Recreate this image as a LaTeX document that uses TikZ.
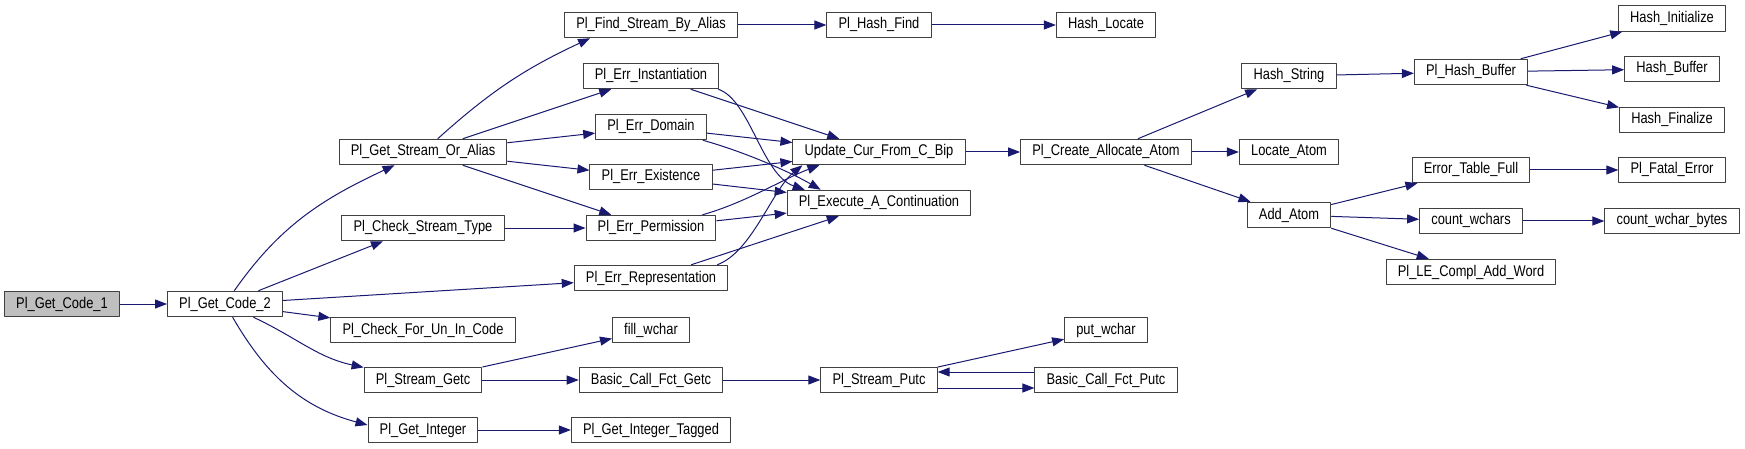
\documentclass[tikz,border=0pt]{standalone}
\usepackage{fontspec}
\setmainfont{Liberation Sans}[FakeStretch=0.83]
\usetikzlibrary{calc}
\usetikzlibrary{arrows.meta}

\definecolor{edgeblue}{HTML}{191970}
\definecolor{boxgray}{HTML}{BFBFBF}

\begin{document}
\begin{tikzpicture}[x=1pt, y=-1pt, line join=round,
    fn/.style={draw=black!75, line width=1pt, fill=white, inner xsep=11.7pt,
      inner ysep=0pt, minimum height=25.5pt, text height=11.5pt, text depth=3.5pt,
      font=\fontsize{15.5}{17}\selectfont},
    call/.style={draw=edgeblue, line width=1pt,
      -{Triangle[length=12pt,width=9pt]}}]
  \useasboundingbox (0,0) rectangle (1745,449);

  % callers on the left
  \node[fn, fill=boxgray] (gc1) at (62,304) {Pl\_Get\_Code\_1};
  \node[fn] (gc2) at (225,304) {Pl\_Get\_Code\_2};
  \node[fn] (gsoa) at (423,152) {Pl\_Get\_Stream\_Or\_Alias};
  \node[fn] (cst) at (423,228) {Pl\_Check\_Stream\_Type};
  \node[fn] (cfu) at (423,330) {Pl\_Check\_For\_Un\_In\_Code};
  \node[fn] (sgetc) at (423,380) {Pl\_Stream\_Getc};
  \node[fn] (gint) at (423,430) {Pl\_Get\_Integer};
  % error column
  \node[fn] (fsba) at (651,25) {Pl\_Find\_Stream\_By\_Alias};
  \node[fn] (einst) at (651,76) {Pl\_Err\_Instantiation};
  \node[fn] (edom) at (651,127) {Pl\_Err\_Domain};
  \node[fn] (eexi) at (651,177) {Pl\_Err\_Existence};
  \node[fn] (eperm) at (651,228) {Pl\_Err\_Permission};
  \node[fn] (erep) at (651,278) {Pl\_Err\_Representation};
  \node[fn] (fillw) at (651,330) {fill\_wchar};
  \node[fn] (bgetc) at (651,380) {Basic\_Call\_Fct\_Getc};
  \node[fn] (gintt) at (651,430) {Pl\_Get\_Integer\_Tagged};
  % middle
  \node[fn] (hfind) at (879,25) {Pl\_Hash\_Find};
  \node[fn] (upd) at (879,152) {Update\_Cur\_From\_C\_Bip};
  \node[fn] (exec) at (879,203) {Pl\_Execute\_A\_Continuation};
  \node[fn] (sputc) at (879,380) {Pl\_Stream\_Putc};
  \node[fn] (hloc) at (1106,25) {Hash\_Locate};
  \node[fn] (caa) at (1106,152) {Pl\_Create\_Allocate\_Atom};
  \node[fn] (putw) at (1106,330) {put\_wchar};
  \node[fn] (bputc) at (1106,380) {Basic\_Call\_Fct\_Putc};
  % atom table side
  \node[fn] (hstr) at (1289,76) {Hash\_String};
  \node[fn] (locatom) at (1289,152) {Locate\_Atom};
  \node[fn] (addatom) at (1289,215) {Add\_Atom};
  \node[fn] (hbuf) at (1471,72) {Pl\_Hash\_Buffer};
  \node[fn] (etf) at (1471,170) {Error\_Table\_Full};
  \node[fn] (cwc) at (1471,221) {count\_wchars};
  \node[fn] (lecaw) at (1471,272) {Pl\_LE\_Compl\_Add\_Word};
  \node[fn] (hinit) at (1672,18.5) {Hash\_Initialize};
  \node[fn] (hbuffer) at (1672,69) {Hash\_Buffer};
  \node[fn] (hfin) at (1672,120) {Hash\_Finalize};
  \node[fn] (fatal) at (1672,170) {Pl\_Fatal\_Error};
  \node[fn] (cwb) at (1672,221) {count\_wchar\_bytes};

  % straight calls
  \foreach \a/\b in {gc1/gc2, gc2/erep, gc2/cfu, gsoa/einst, gsoa/edom,
      gsoa/eexi, gsoa/eperm, cst/eperm, fsba/hfind, hfind/hloc, einst/upd,
      edom/upd, eexi/upd, eexi/exec, eperm/exec, erep/exec, upd/caa,
      caa/hstr, caa/locatom, caa/addatom, hstr/hbuf, hbuf/hinit,
      hbuf/hbuffer, hbuf/hfin, addatom/etf, addatom/cwc, addatom/lecaw,
      etf/fatal, cwc/cwb, sgetc/fillw, sgetc/bgetc, bgetc/sputc,
      sputc/putw, gint/gintt}
    \draw[call] (\a) -- (\b);

  % bent calls
  \draw[call] (gc2) to[out=55,in=205] (gsoa);
  \draw[call] (gc2) -- ($(cst.south)+(-40,0)$);
  \draw[call] (gc2) to[out=-25,in=168] (sgetc);
  \draw[call] (gc2) to[out=-60,in=165] ($(gint.west)+(0,-5)$);
  \draw[call] (gsoa) to[out=42,in=205] ($(fsba.south west)+(26,0)$);
  \draw[call] ($(einst.south east)+(-1,0)$) .. controls (750,100) and (762,175)
    .. ($(exec.north west)+(18,0)$);
  \draw[call] ($(edom.south east)+(-4,0)$) .. controls (745,152) and (790,172)
    .. ($(exec.north west)+(34,0)$);
  \draw[call] ($(eperm.north east)+(-14,0)$) .. controls (745,203) and (785,178)
    .. ($(upd.south west)+(27,0)$);
  \draw[call] ($(erep.north east)+(-11,0)$) .. controls (752,252) and (772,190)
    .. ($(upd.south west)+(10,0)$);
  % putc loop
  \draw[call] ($(sputc.east)+(0,8)$) -- ($(bputc.west)+(0,8)$);
  \draw[call] ($(bputc.west)+(0,-8)$) -- ($(sputc.east)+(0,-8)$);
\end{tikzpicture}
\end{document}
